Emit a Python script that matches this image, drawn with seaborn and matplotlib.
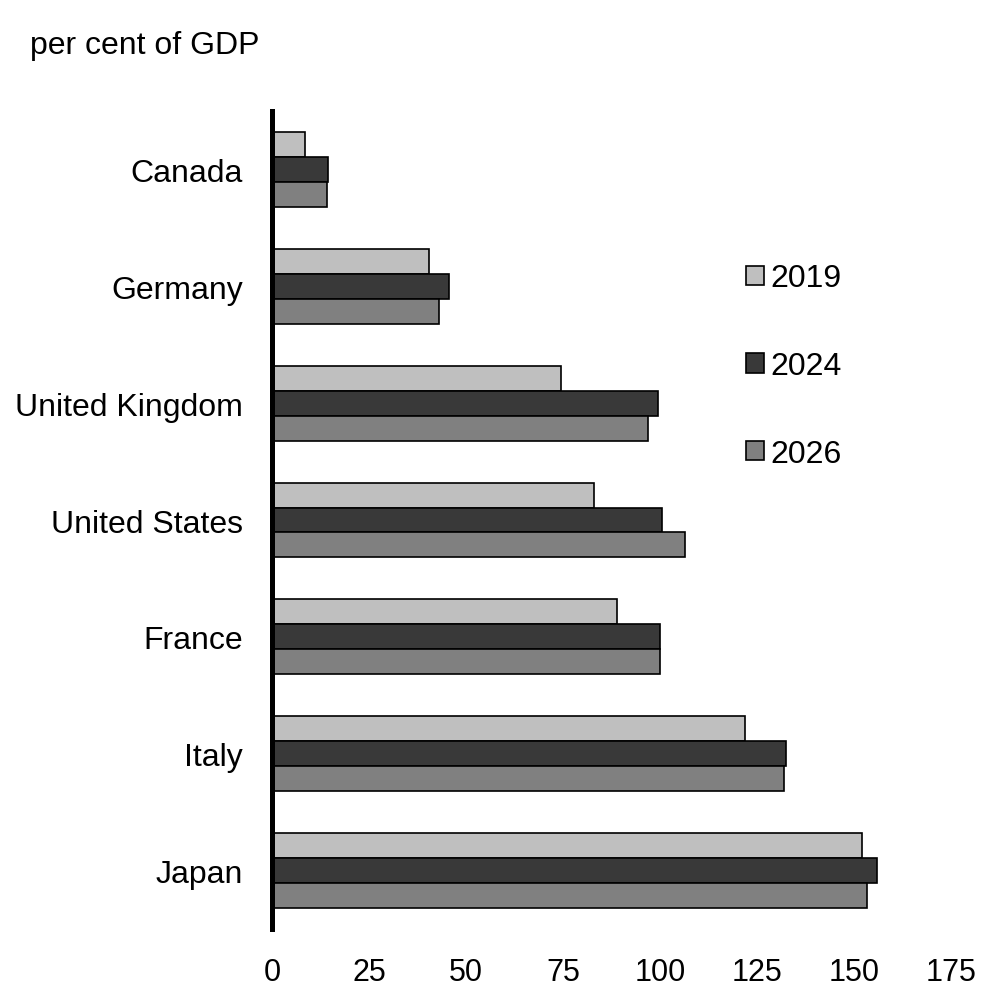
import matplotlib
matplotlib.use('Agg')
import matplotlib.pyplot as plt
import seaborn as sns
import pandas as pd
from matplotlib.patches import Patch

# dados
paises = ['Canada', 'Germany', 'United Kingdom', 'United States', 'France', 'Italy', 'Japan']
anos = ['2019', '2024', '2026']
v2019 = [8.5, 40.5, 74.5, 83.0, 89.0, 122.0, 152.0]
v2024 = [14.5, 45.5, 99.5, 100.5, 100.0, 132.5, 156.0]
v2026 = [14.2, 43.0, 97.0, 106.5, 100.0, 132.0, 153.5]
cores = {'2019': '#bfbfbf', '2024': '#393939', '2026': '#808080'}

df = pd.DataFrame({'pais': paises * 3,
                   'ano': ['2019'] * 7 + ['2024'] * 7 + ['2026'] * 7,
                   'valor': v2019 + v2024 + v2026})

sns.set_style('white')
plt.rcParams['font.family'] = ['Liberation Sans', 'DejaVu Sans']
plt.rcParams['text.color'] = 'black'
plt.rcParams['xtick.color'] = 'black'
plt.rcParams['ytick.color'] = 'black'

fig = plt.figure(figsize=(10.04, 10.04), dpi=100)
ax = fig.add_axes([0.271, 0.0737, 0.676, 0.8147])

sns.barplot(data=df, y='pais', x='valor', hue='ano', order=paises, hue_order=anos,
            palette=cores, orient='h', width=0.64, edgecolor='black', linewidth=1.2,
            saturation=1, legend=False, ax=ax)

ax.set_xlim(0, 175)
ax.set_ylim(6.5, -0.5)
ax.set_xticks([0, 25, 50, 75, 100, 125, 150, 175])
ax.set_xlabel('')
ax.set_ylabel('')
for s in ['top', 'right', 'bottom']:
    ax.spines[s].set_visible(False)
ax.spines['left'].set_linewidth(3.6)
ax.spines['left'].set_color('black')
ax.tick_params(axis='y', length=0, pad=21, labelsize=23)
ax.tick_params(axis='x', length=0, pad=20, labelsize=22)

# legenda
handles = [Patch(facecolor=cores[a], edgecolor='black', linewidth=1.2) for a in anos]
ax.legend(handles, anos, loc='center left', bbox_to_anchor=(0.699, 0.688),
          frameon=False, fontsize=23, handlelength=0.55, handleheight=0.55,
          handletextpad=0.2, labelspacing=1.81, borderpad=0, borderaxespad=0)

fig.text(30 / 1004, 1 - 54 / 1004, 'per cent of GDP', fontsize=23, va='baseline', ha='left')

plt.savefig('out.png', dpi=100)
